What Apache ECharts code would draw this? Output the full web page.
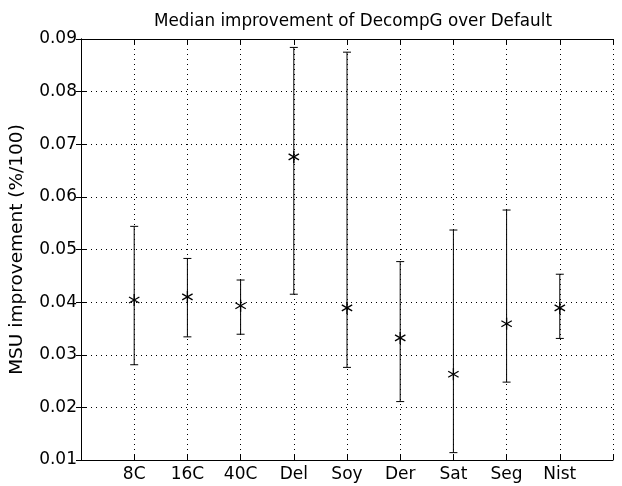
<!DOCTYPE html>
<html><head><meta charset="utf-8">
<script src="https://cdn.jsdelivr.net/npm/echarts@6/dist/echarts.min.js"></script>
<style>html,body{margin:0;padding:0;background:#fff}#c{width:622px;height:486px}</style>
</head><body><div id="c"></div>
<script>
const categories = ['8C','16C','40C','Del','Soy','Der','Sat','Seg','Nist'];
const medians = [0.0404,0.0410,0.0393,0.0676,0.0389,0.0332,0.0263,0.0359,0.0389];
const lows    = [0.0281,0.0334,0.0339,0.0415,0.0276,0.0211,0.0114,0.0248,0.0331];
const highs   = [0.0544,0.0483,0.0442,0.0884,0.0875,0.0477,0.0537,0.0575,0.0453];
const yTicks = [0.01,0.02,0.03,0.04,0.05,0.06,0.07,0.08,0.09];

const data = categories.map((c,i)=>[i+1, medians[i], lows[i], highs[i]]);
const font = 'DejaVu Sans, sans-serif';
const chart = echarts.init(document.getElementById('c'), null, {renderer:'canvas'});
const lineSt = {stroke:'#000', lineWidth:1};
const starSt = {stroke:'#000', lineWidth:1.3};
chart.setOption({
  animation:false,
  backgroundColor:'#fff',
  title:{text:'Median improvement of DecompG over Default', left:348, top:8, textAlign:'center',
    textStyle:{fontFamily:font, fontSize:16.8, fontWeight:'normal', color:'#000'}},
  grid:{left:80, right:9, top:39, bottom:26, containLabel:false},
  xAxis:[{type:'value', min:0, max:10, interval:1, position:'bottom',
    axisLine:{lineStyle:{color:'#000', width:1}},
    axisTick:{inside:true, length:5, lineStyle:{color:'#000'}},
    axisLabel:{fontFamily:font, fontSize:17, color:'#000', margin:6,
      formatter:v=> (v>=1 && v<=categories.length) ? categories[v-1] : ''},
    splitLine:{show:true, lineStyle:{color:'#000', type:[1,4], width:1}}},
   {type:'value', min:0, max:10, interval:1, position:'top',
    axisLine:{lineStyle:{color:'#000', width:1}},
    axisTick:{inside:true, length:5, lineStyle:{color:'#000'}},
    axisLabel:{show:false}, splitLine:{show:false}}],
  yAxis:[{type:'value', min:0.01, max:0.09, interval:0.01, position:'left',
    name:'MSU improvement (%/100)', nameLocation:'middle', nameGap:54, nameRotate:90,
    nameTextStyle:{fontFamily:font, fontSize:18.5, color:'#000'},
    axisLine:{show:true, lineStyle:{color:'#000', width:1}},
    axisTick:{show:true, inside:true, length:5, lineStyle:{color:'#000'}},
    axisLabel:{fontFamily:font, fontSize:17, color:'#000', margin:4,
      formatter:v=>{const t=yTicks.find(q=>Math.abs(q-v)<1e-6); return t!==undefined ? t.toFixed(2) : '';}},
    splitLine:{show:true, lineStyle:{color:'#000', type:[1,4], width:1}}},
   {type:'value', min:0.01, max:0.09, interval:0.01, position:'right',
    axisLine:{show:true, lineStyle:{color:'#000', width:1}},
    axisTick:{show:true, inside:true, length:5, lineStyle:{color:'#000'}},
    axisLabel:{show:false}, splitLine:{show:false}}],
  series:[{type:'custom', xAxisIndex:0, yAxisIndex:0, data:data,
    renderItem:(params, api)=>{
      const x = api.value(0);
      const pm = api.coord([x, api.value(1)]);
      const pl = api.coord([x, api.value(2)]);
      const ph = api.coord([x, api.value(3)]);
      const cw = 4, r = 6, dx = r*Math.cos(Math.PI/6), dy = r*Math.sin(Math.PI/6);
      const L = (x1,y1,x2,y2,s)=>({type:'line', shape:{x1,y1,x2,y2}, style:s||lineSt});
      return {type:'group', children:[
        L(pl[0],pl[1],ph[0],ph[1]),
        L(pl[0]-cw,pl[1],pl[0]+cw,pl[1]),
        L(ph[0]-cw,ph[1],ph[0]+cw,ph[1]),
        L(pm[0],pm[1]-r,pm[0],pm[1]+r,starSt),
        L(pm[0]-dx,pm[1]-dy,pm[0]+dx,pm[1]+dy,starSt),
        L(pm[0]-dx,pm[1]+dy,pm[0]+dx,pm[1]-dy,starSt)
      ]};
    }}]
});
</script></body></html>
